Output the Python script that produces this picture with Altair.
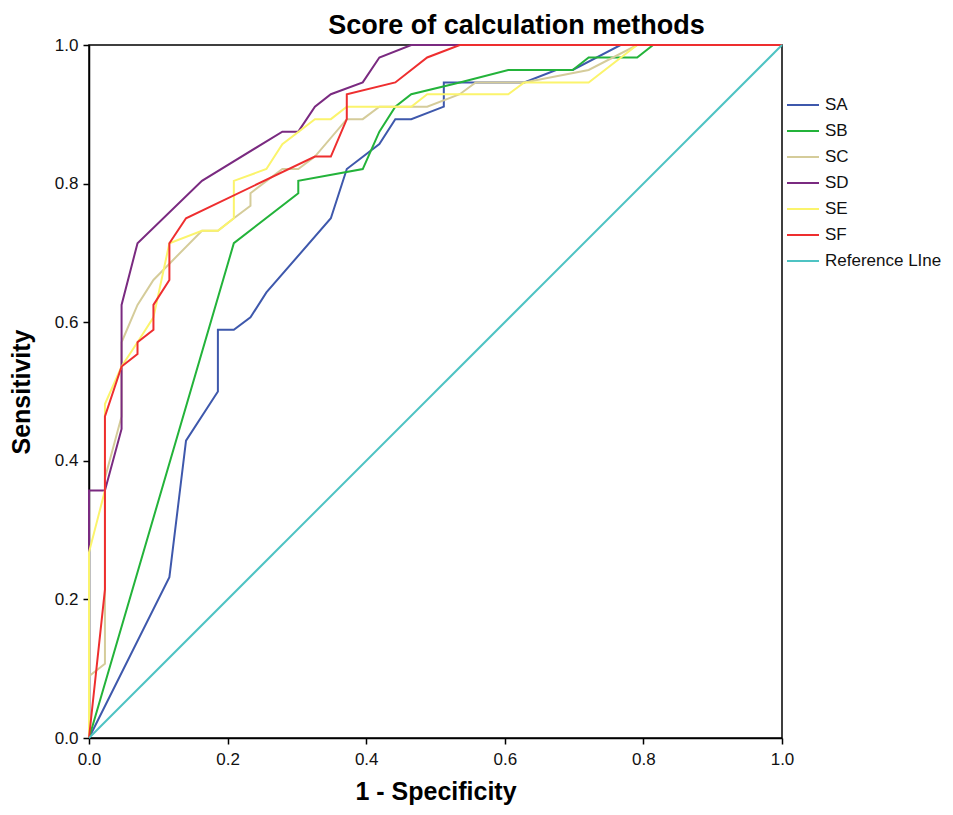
import altair as alt
import pandas as pd

series_names = ["SA", "SB", "SC", "SD", "SE", "SF", "Reference LIne"]
series_colors = ["#3e58ac", "#23b33a", "#d5cc9a", "#7a2a80", "#fbf46c", "#ee2e2f", "#4ec3c3"]

sa_x = [0, 0.116, 0.140, 0.186, 0.186, 0.209, 0.233, 0.256, 0.349, 0.372, 0.419, 0.442, 0.465, 0.512, 0.512, 0.628, 0.674, 0.698, 0.767, 1.0]
sa_y = [0, 0.232, 0.429, 0.500, 0.589, 0.589, 0.607, 0.643, 0.750, 0.821, 0.857, 0.893, 0.893, 0.911, 0.946, 0.946, 0.964, 0.964, 1.0, 1.0]

sb_x = [0, 0.209, 0.302, 0.302, 0.395, 0.419, 0.442, 0.465, 0.535, 0.605, 0.698, 0.721, 0.791, 0.814, 1.0]
sb_y = [0, 0.714, 0.786, 0.804, 0.821, 0.875, 0.911, 0.929, 0.946, 0.964, 0.964, 0.982, 0.982, 1.0, 1.0]

sc_x = [0, 0, 0.023, 0.023, 0.047, 0.047, 0.070, 0.093, 0.163, 0.186, 0.209, 0.233, 0.233, 0.279, 0.302, 0.326, 0.372, 0.395, 0.419, 0.488, 0.535, 0.558, 0.628, 0.721, 0.791, 1.0]
sc_y = [0, 0.089, 0.107, 0.375, 0.464, 0.571, 0.625, 0.661, 0.732, 0.732, 0.750, 0.768, 0.786, 0.821, 0.821, 0.839, 0.893, 0.893, 0.911, 0.911, 0.929, 0.946, 0.946, 0.964, 1.0, 1.0]

sd_x = [0, 0, 0.023, 0.047, 0.047, 0.070, 0.163, 0.279, 0.302, 0.326, 0.349, 0.395, 0.419, 0.465, 1.0]
sd_y = [0, 0.357, 0.357, 0.446, 0.625, 0.714, 0.804, 0.875, 0.875, 0.911, 0.929, 0.946, 0.982, 1.0, 1.0]

se_x = [0, 0, 0.023, 0.023, 0.047, 0.070, 0.093, 0.116, 0.163, 0.186, 0.209, 0.209, 0.256, 0.279, 0.326, 0.349, 0.372, 0.465, 0.488, 0.605, 0.628, 0.721, 0.791, 1.0]
se_y = [0, 0.268, 0.357, 0.482, 0.536, 0.571, 0.607, 0.714, 0.732, 0.732, 0.750, 0.804, 0.821, 0.857, 0.893, 0.893, 0.911, 0.911, 0.929, 0.929, 0.946, 0.946, 1.0, 1.0]

sf_x = [0, 0.023, 0.023, 0.047, 0.070, 0.070, 0.093, 0.093, 0.116, 0.116, 0.140, 0.326, 0.349, 0.372, 0.372, 0.442, 0.488, 0.535, 1.0]
sf_y = [0, 0.214, 0.464, 0.536, 0.554, 0.571, 0.589, 0.625, 0.661, 0.714, 0.750, 0.839, 0.839, 0.893, 0.929, 0.946, 0.982, 1.0, 1.0]

ref_x = [0, 1.0]
ref_y = [0, 1.0]

all_x = [sa_x, sb_x, sc_x, sd_x, se_x, sf_x, ref_x]
all_y = [sa_y, sb_y, sc_y, sd_y, se_y, sf_y, ref_y]

rows = []
for name, xs, ys in zip(series_names, all_x, all_y):
    for i, (xv, yv) in enumerate(zip(xs, ys)):
        rows.append({"series": name, "x": xv, "y": yv, "order": i})
df = pd.DataFrame(rows)

FONT = "Liberation Sans"

chart = alt.Chart(df).mark_line(strokeWidth=2).encode(
    x=alt.X("x:Q", title="1 - Specificity",
            scale=alt.Scale(domain=[0, 1], nice=False, zero=False),
            axis=alt.Axis(values=[0, 0.2, 0.4, 0.6, 0.8, 1.0], format=".1f", labelFlush=False)),
    y=alt.Y("y:Q", title="Sensitivity",
            scale=alt.Scale(domain=[0, 1], nice=False, zero=False),
            axis=alt.Axis(values=[0, 0.2, 0.4, 0.6, 0.8, 1.0], format=".1f", labelFlush=False)),
    color=alt.Color("series:N",
                    scale=alt.Scale(domain=series_names, range=series_colors),
                    sort=series_names,
                    legend=alt.Legend(title=None, orient="none", legendX=697, legendY=43,
                                      symbolType="stroke", symbolSize=1024,
                                      symbolStrokeWidth=2, labelFont=FONT,
                                      labelFontSize=17, labelColor="#111",
                                      rowPadding=1, labelOffset=5)),
    order="order:Q",
).properties(
    width=693,
    height=693,
    title=alt.TitleParams("Score of calculation methods", font=FONT, fontSize=27,
                          fontWeight="bold", color="black", anchor="middle", dx=81, dy=10, offset=6),
    autosize=alt.AutoSizeParams(type="none"),
    padding={"left": 81, "top": 37, "right": 163, "bottom": 69},
).configure_view(
    stroke="black", strokeWidth=1.5
).configure_axis(
    labelFont=FONT, labelFontSize=17, labelColor="#111",
    titleFont=FONT, titleFontSize=25, titleFontWeight="bold", titleColor="black",
    domainColor="black", domainWidth=1.5, tickColor="black", tickWidth=1.5, tickSize=6,
    grid=False, labelPadding=5,
).configure_axisX(
    titlePadding=12, labelPadding=7
).configure_axisY(
    titlePadding=20
)

chart.save("out.html", embed_options={"renderer": "svg", "actions": False})
